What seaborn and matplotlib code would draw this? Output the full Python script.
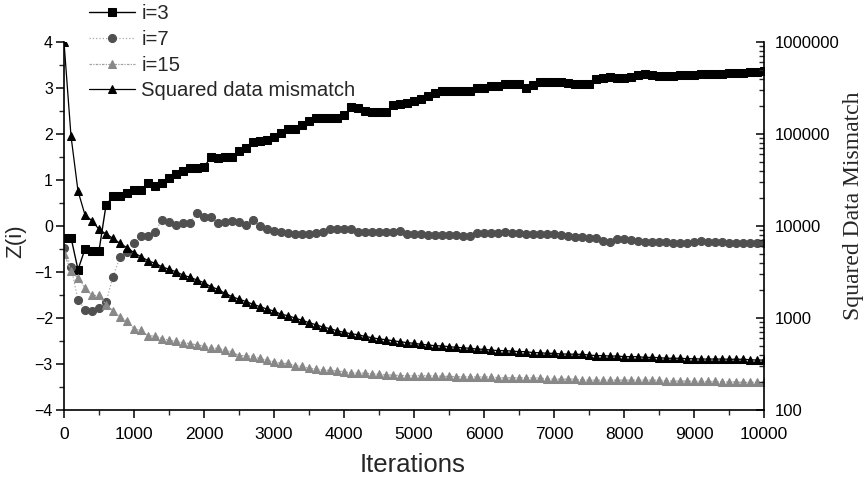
import matplotlib
matplotlib.use("Agg")
import matplotlib.pyplot as plt
import matplotlib.ticker as mticker
import seaborn as sns
import pandas as pd
import numpy as np

iterations = list(range(0, 10001, 100))

z_i3 = [-0.25, -0.25, -0.95, -0.50, -0.54, -0.54, 0.45, 0.65, 0.65, 0.72,
        0.78, 0.78, 0.93, 0.88, 0.93, 1.04, 1.12, 1.19, 1.26, 1.26,
        1.28, 1.50, 1.47, 1.51, 1.51, 1.63, 1.70, 1.83, 1.85, 1.87,
        1.94, 2.03, 2.10, 2.10, 2.19, 2.29, 2.34, 2.34, 2.34, 2.35,
        2.41, 2.58, 2.57, 2.51, 2.47, 2.47, 2.47, 2.62, 2.65, 2.67,
        2.72, 2.76, 2.83, 2.90, 2.94, 2.94, 2.94, 2.94, 2.93, 2.99,
        3.00, 3.04, 3.04, 3.08, 3.08, 3.08, 3.01, 3.06, 3.12, 3.12,
        3.12, 3.12, 3.10, 3.09, 3.08, 3.08, 3.19, 3.22, 3.23, 3.22,
        3.22, 3.23, 3.28, 3.30, 3.28, 3.27, 3.27, 3.27, 3.28, 3.29,
        3.29, 3.30, 3.31, 3.31, 3.31, 3.32, 3.32, 3.33, 3.34, 3.35,
        3.37]

z_i7 = [-0.48, -0.90, -1.60, -1.82, -1.84, -1.78, -1.66, -1.10, -0.68, -0.56,
        -0.38, -0.21, -0.21, -0.12, 0.13, 0.09, 0.02, 0.06, 0.07, 0.29,
        0.19, 0.19, 0.07, 0.09, 0.11, 0.08, 0.02, 0.13, -0.01, -0.07,
        -0.10, -0.12, -0.16, -0.17, -0.17, -0.17, -0.15, -0.14, -0.07, -0.06,
        -0.06, -0.07, -0.12, -0.12, -0.12, -0.12, -0.12, -0.12, -0.11, -0.17,
        -0.17, -0.17, -0.20, -0.20, -0.20, -0.20, -0.20, -0.21, -0.21, -0.145,
        -0.145, -0.145, -0.16, -0.14, -0.15, -0.15, -0.18, -0.18, -0.175, -0.175,
        -0.175, -0.196, -0.21, -0.23, -0.23, -0.25, -0.27, -0.32, -0.34, -0.28,
        -0.29, -0.30, -0.32, -0.34, -0.34, -0.34, -0.34, -0.36, -0.36, -0.36,
        -0.34, -0.33, -0.34, -0.34, -0.34, -0.36, -0.36, -0.38, -0.38, -0.38,
        -0.38]

z_i15 = [-0.60, -0.97, -1.13, -1.34, -1.51, -1.51, -1.71, -1.84, -1.98, -2.07,
         -2.23, -2.27, -2.39, -2.39, -2.45, -2.48, -2.51, -2.535, -2.557, -2.586,
         -2.607, -2.657, -2.657, -2.70, -2.736, -2.82, -2.82, -2.837, -2.88, -2.916,
         -2.952, -2.988, -2.988, -3.038, -3.052, -3.095, -3.109, -3.131, -3.138, -3.152,
         -3.167, -3.196, -3.196, -3.196, -3.217, -3.224, -3.239, -3.239, -3.253, -3.253,
         -3.253, -3.253, -3.253, -3.26, -3.268, -3.27, -3.275, -3.28, -3.28, -3.28,
         -3.28, -3.28, -3.30, -3.30, -3.30, -3.30, -3.30, -3.30, -3.30, -3.33,
         -3.33, -3.33, -3.33, -3.33, -3.35, -3.35, -3.35, -3.35, -3.35, -3.35,
         -3.35, -3.35, -3.35, -3.35, -3.35, -3.35, -3.37, -3.37, -3.37, -3.37,
         -3.38, -3.38, -3.38, -3.38, -3.39, -3.39, -3.39, -3.40, -3.40, -3.40,
         -3.40]

mismatch = [1000000, 95000, 24000, 13200, 11400, 9200, 8200, 7350, 6480, 5810,
            5130, 4640, 4200, 3930, 3610, 3380, 3190, 2930, 2770, 2590,
            2420, 2190, 2050, 1850, 1710, 1600, 1510, 1410, 1330, 1250,
            1190, 1100, 1060, 1000, 945, 890, 845, 798, 766, 728,
            698, 675, 658, 631, 611, 592, 581, 566, 552, 540,
            531, 518, 509, 500, 497, 488, 480, 475, 468, 460,
            456, 449, 442, 442, 437, 431, 431, 420, 420, 413,
            413, 406, 406, 403, 403, 396, 390, 390, 386, 386,
            380, 380, 380, 373, 373, 371, 365, 365, 365, 361,
            361, 358, 358, 358, 358, 356, 356, 356, 352, 349,
            349]

right_ticks = [100, 1000, 10000, 100000, 1000000]
right_ticklabels = ["100", "1000", "10000", "100000", "1000000"]

df = pd.DataFrame({"Iterations": iterations, "i3": z_i3, "i7": z_i7,
                   "i15": z_i15, "mismatch": mismatch})

sns.set_theme(style="white")
plt.rcParams["font.family"] = ["Liberation Sans", "DejaVu Sans"]

fig = plt.figure(figsize=(8.65, 4.79), dpi=100)
ax = fig.add_axes([64 / 865, 1 - 410 / 479, 700 / 865, 368 / 479])
ax2 = ax.twinx()

sns.lineplot(data=df, x="Iterations", y="i3", ax=ax, color="black", lw=1.0,
             marker="s", markersize=5.8, markeredgecolor="black",
             markerfacecolor="black", label="i=3", legend=False)
sns.lineplot(data=df, x="Iterations", y="i7", ax=ax, color="#a8a8a8", lw=0.9,
             linestyle=":", marker="o", markersize=5.8, markeredgecolor="#505050",
             markerfacecolor="#505050", label="i=7", legend=False)
sns.lineplot(data=df, x="Iterations", y="i15", ax=ax, color="#a0a0a0", lw=0.9,
             linestyle=(0, (2, 1, 1, 1)), marker="^", markersize=5.8,
             markeredgecolor="#888888", markerfacecolor="#888888",
             label="i=15", legend=False)
sns.lineplot(data=df, x="Iterations", y="mismatch", ax=ax2, color="black", lw=0.9,
             marker="^", markersize=5.8, markeredgecolor="black",
             markerfacecolor="black", label="Squared data mismatch", legend=False)

ax.set_xlim(0, 10000)
ax.set_ylim(-4, 4)
ax2.set_yscale("log")
ax2.set_ylim(100, 1000000)

ax.xaxis.set_major_locator(mticker.MultipleLocator(1000))
ax.xaxis.set_minor_locator(mticker.MultipleLocator(500))
ax.yaxis.set_major_locator(mticker.MultipleLocator(1))
ax.yaxis.set_minor_locator(mticker.MultipleLocator(0.5))
ax2.set_yticks(right_ticks)
ax2.set_yticklabels(right_ticklabels)
ax2.yaxis.set_minor_locator(mticker.LogLocator(base=10, subs=np.arange(2, 10)))
ax2.yaxis.set_minor_formatter(mticker.NullFormatter())

for a in (ax, ax2):
    a.spines["top"].set_visible(False)
    for s in a.spines.values():
        s.set_color("black")
        s.set_linewidth(1.2)
ax.spines["right"].set_visible(False)
ax2.spines["left"].set_visible(False)
ax2.spines["bottom"].set_visible(False)

ax.tick_params(axis="x", which="major", direction="out", length=6, width=1.1,
               labelsize=12.5, colors="black", bottom=True, pad=6.5)
ax.tick_params(axis="y", which="major", direction="out", length=6, width=1.1,
               labelsize=11.5, colors="black", left=True, pad=2)
ax.tick_params(axis="both", which="minor", direction="out", length=3.5, width=1.0,
               bottom=True, left=True)
ax2.tick_params(axis="y", which="major", direction="in", length=6, width=1.1,
                labelsize=12, colors="black", right=True, pad=8)
ax2.tick_params(axis="y", which="minor", direction="in", length=3.5, width=1.0,
                right=True)

ax.set_xlabel("Iterations", fontsize=18.5)
ax.xaxis.set_label_coords((413 - 64) / 700, -(465 - 410) / 368)
ax.xaxis.label.set_verticalalignment("center")
ax.set_ylabel("Z(i)", fontsize=16)
ax.yaxis.set_label_coords((16 - 64) / 700, (410 - 241) / 368)
ax.yaxis.label.set_verticalalignment("center")
ax2.set_ylabel("Squared Data Mismatch", fontsize=17,
               family=["Liberation Serif", "DejaVu Serif"])
ax2.yaxis.set_label_coords((853 - 64) / 700, (410 - 206) / 368)
ax2.yaxis.label.set_verticalalignment("center")

h1, l1 = ax.get_legend_handles_labels()
h2, l2 = ax2.get_legend_handles_labels()
fig.legend(h1 + h2, l1 + l2, loc="upper left", bbox_to_anchor=(0.093, 1.008),
           frameon=False, fontsize=14.6, handlelength=2.3, labelspacing=0.33,
           handletextpad=0.3, borderaxespad=0.0)

fig.savefig("out.png", dpi=100)
